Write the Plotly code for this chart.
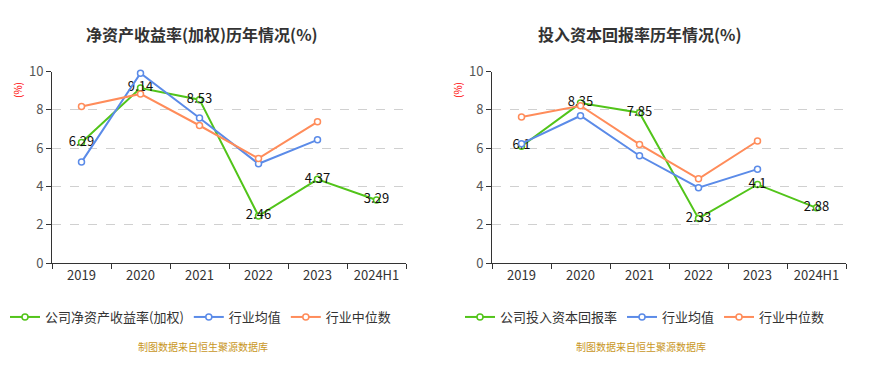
import plotly.graph_objects as go

categories = ["2019", "2020", "2021", "2022", "2023", "2024H1"]

roe_company = [6.29, 9.14, 8.53, 2.46, 4.37, 3.29]
roe_mean = [5.27, 9.91, 7.57, 5.18, 6.43]
roe_median = [8.17, 8.83, 7.18, 5.46, 7.37]

roic_company = [6.1, 8.35, 7.85, 2.33, 4.1, 2.88]
roic_mean = [6.23, 7.69, 5.60, 3.93, 4.90]
roic_median = [7.62, 8.21, 6.19, 4.40, 6.37]

y_ticks = [0, 2, 4, 6, 8, 10]

GREEN = "#52c41a"
BLUE = "#5b8be8"
ORANGE = "#ff8c5a"
SOURCE = "#c8961e"
FONT = "Noto Sans CJK SC, Noto Sans, sans-serif"

# figure is placed inside the page body (8px margin), so size it to fit the window
W, H = 875, 355
OFF = 8


def px_x(x):
    return (x - OFF) / W


def px_y(y):
    return (H - (y - OFF)) / H


fig = go.Figure()


def add_panel(xa, ya, legend, company, mean, median, company_name):
    fig.add_trace(go.Scatter(
        x=categories, y=company, name=company_name, mode="lines+markers+text",
        text=[str(v) for v in company], textposition="middle center",
        textfont=dict(size=13, color="#111", family=FONT),
        line=dict(color=GREEN, width=2),
        marker=dict(symbol="circle", size=6, color="white", line=dict(color=GREEN, width=1.5)),
        xaxis=xa, yaxis=ya, legend=legend, cliponaxis=False))
    fig.add_trace(go.Scatter(
        x=categories[:len(mean)], y=mean, name="行业均值", mode="lines+markers",
        line=dict(color=BLUE, width=2),
        marker=dict(symbol="circle", size=6, color="white", line=dict(color=BLUE, width=1.5)),
        xaxis=xa, yaxis=ya, legend=legend, cliponaxis=False))
    fig.add_trace(go.Scatter(
        x=categories[:len(median)], y=median, name="行业中位数", mode="lines+markers",
        line=dict(color=ORANGE, width=2),
        marker=dict(symbol="circle", size=6, color="white", line=dict(color=ORANGE, width=1.5)),
        xaxis=xa, yaxis=ya, legend=legend, cliponaxis=False))


add_panel("x", "y", "legend", roe_company, roe_mean, roe_median, "公司净资产收益率(加权)")
add_panel("x2", "y2", "legend2", roic_company, roic_mean, roic_median, "公司投入资本回报率")

xaxis_common = dict(
    type="category", categoryorder="array", categoryarray=categories,
    range=[-0.5, 5.5], showline=True, linecolor="#333", linewidth=1,
    ticks="outside", tickson="boundaries", ticklen=5, tickcolor="#333",
    tickfont=dict(size=13, color="#333", family=FONT), showgrid=False, zeroline=False,
    fixedrange=True, automargin=False,
)
yaxis_common = dict(
    range=[0, 10], tickvals=y_ticks, showline=True, linecolor="#333", linewidth=1,
    ticks="outside", ticklen=5, tickcolor="#333",
    tickfont=dict(size=13, color="#555", family=FONT),
    showgrid=True, gridcolor="#d0d0d0", griddash="dash", gridwidth=1, zeroline=False,
    domain=[px_y(263), px_y(71.5)], automargin=False, fixedrange=True,
)

ann_common = dict(xref="paper", yref="paper", showarrow=False, xanchor="center", yanchor="middle")

fig.update_layout(
    width=W, height=H, autosize=False,
    margin=dict(l=0, r=0, t=0, b=0, pad=0, autoexpand=False),
    paper_bgcolor="white", plot_bgcolor="white",
    font=dict(family=FONT, color="#333"),
    showlegend=True,
    xaxis=dict(xaxis_common, domain=[px_x(52), px_x(406)], anchor="y"),
    yaxis=dict(yaxis_common, anchor="x"),
    xaxis2=dict(xaxis_common, domain=[px_x(492), px_x(846)], anchor="y2"),
    yaxis2=dict(yaxis_common, anchor="x2"),
    legend=dict(orientation="h", x=px_x(5), y=px_y(317), yanchor="middle",
                xanchor="left", font=dict(size=13, color="#333", family=FONT),
                bgcolor="rgba(0,0,0,0)", itemwidth=30),
    legend2=dict(orientation="h", x=px_x(460), y=px_y(317), yanchor="middle",
                 xanchor="left", font=dict(size=13, color="#333", family=FONT),
                 bgcolor="rgba(0,0,0,0)", itemwidth=30),
    annotations=[
        dict(ann_common, text="<b>净资产收益率(加权)历年情况(%)</b>", x=px_x(202), y=px_y(34),
             font=dict(size=16, color="#333", family=FONT)),
        dict(ann_common, text="<b>投入资本回报率历年情况(%)</b>", x=px_x(640), y=px_y(34),
             font=dict(size=16, color="#333", family=FONT)),
        dict(ann_common, text="(%)", x=px_x(17), y=px_y(90), textangle=-90,
             font=dict(size=10, color="red", family=FONT)),
        dict(ann_common, text="(%)", x=px_x(457), y=px_y(90), textangle=-90,
             font=dict(size=10, color="red", family=FONT)),
        dict(ann_common, text="制图数据来自恒生聚源数据库", x=px_x(203), y=px_y(346),
             font=dict(size=10, color=SOURCE, family=FONT)),
        dict(ann_common, text="制图数据来自恒生聚源数据库", x=px_x(641), y=px_y(346),
             font=dict(size=10, color=SOURCE, family=FONT)),
    ],
)

fig.write_html("out.html")
